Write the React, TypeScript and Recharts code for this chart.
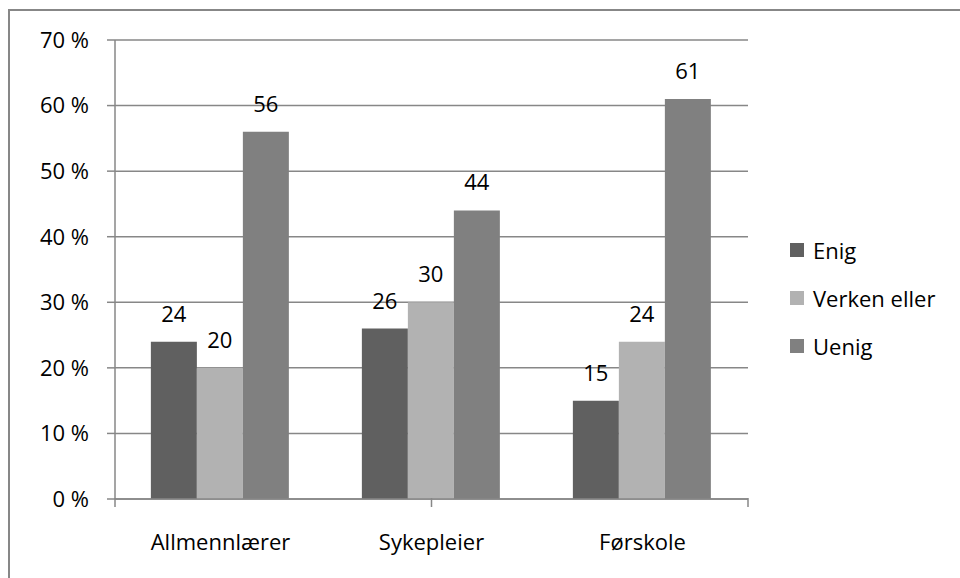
import { BarChart, Bar, XAxis, YAxis, CartesianGrid, LabelList } from 'recharts';

const categories = ['Allmennlærer', 'Sykepleier', 'Førskole'];
const enig = [24, 26, 15];
const verken = [20, 30, 24];
const uenig = [56, 44, 61];
const yTicks = [0, 10, 20, 30, 40, 50, 60, 70];
const boundaryTicks = [0, 1, 2, 3];

const SERIES = [
  { key: 'enig', name: 'Enig', color: '#606060' },
  { key: 'verken', name: 'Verken eller', color: '#b2b2b2' },
  { key: 'uenig', name: 'Uenig', color: '#808080' },
];

const data = categories.map((c, i) => ({
  category: c,
  enig: enig[i],
  verken: verken[i],
  uenig: uenig[i],
}));

const FONT = '"Open Sans", sans-serif';
const LINE = '#878787';

// tick mark between categories, drawn at the scale position of the boundary axis
function EdgeTick({ x, y }: any) {
  return <line x1={x} x2={x} y1={y - 2} y2={y + 7} stroke={LINE} strokeWidth={1.5} />;
}

// legend drawn as plain html so it doesn't eat into the plot width
function LegendBox() {
  return (
    <div style={{ position: 'absolute', left: 790, top: 226, fontFamily: FONT, fontSize: 22, color: '#000' }}>
      {SERIES.map((s) => (
        <div key={s.key} style={{ display: 'flex', alignItems: 'center', height: 48 }}>
          <span style={{ width: 14, height: 14, background: s.color, marginRight: 9, display: 'inline-block' }} />
          <span>{s.name}</span>
        </div>
      ))}
    </div>
  );
}

export default function App() {
  return (
    <div style={{ position: 'absolute', left: 0, top: 0, width: 960, height: 578, overflow: 'hidden', background: '#fff' }}>
      <div
        style={{
          position: 'absolute', left: 8, top: 9, width: 1000, height: 620,
          borderTop: `2px solid ${LINE}`, borderLeft: `2px solid ${LINE}`,
        }}
      />
      <div style={{ position: 'absolute', left: 0, top: 0 }}>
        <BarChart
          width={960}
          height={578}
          data={data}
          margin={{ top: 40, right: 212, bottom: 0, left: 0 }}
          barCategoryGap="17%"
          barGap={0}
        >
          <CartesianGrid vertical={false} stroke={LINE} strokeWidth={1.5} />
          <XAxis
            xAxisId="edge"
            type="number"
            domain={[0, 3]}
            ticks={boundaryTicks}
            interval={0}
            allowDataOverflow
            height={78}
            axisLine={false}
            tickLine={false}
            tickSize={0}
            tickMargin={0}
            tick={<EdgeTick />}
          />
          <XAxis
            xAxisId="cat"
            dataKey="category"
            height={1}
            tickLine={false}
            tickSize={0}
            tickMargin={35}
            axisLine={{ stroke: LINE, strokeWidth: 1.5 }}
            tick={{ fill: '#000', fontSize: 22, fontFamily: FONT }}
          />
          <YAxis
            width={115}
            domain={[0, 70]}
            ticks={yTicks}
            tickFormatter={(v: number) => `${v} %`}
            tickSize={8}
            tickMargin={18}
            axisLine={{ stroke: LINE, strokeWidth: 1.5 }}
            tickLine={{ stroke: LINE, strokeWidth: 1.5 }}
            tick={{ fill: '#000', fontSize: 22, fontFamily: FONT }}
          />
          {SERIES.map((s) => (
            <Bar key={s.key} xAxisId="cat" dataKey={s.key} name={s.name} fill={s.color} isAnimationActive={false}>
              <LabelList
                dataKey={s.key}
                position="top"
                offset={20}
                fill="#000"
                style={{ fontSize: 22, fontFamily: FONT }}
              />
            </Bar>
          ))}
        </BarChart>
      </div>
      <LegendBox />
    </div>
  );
}
